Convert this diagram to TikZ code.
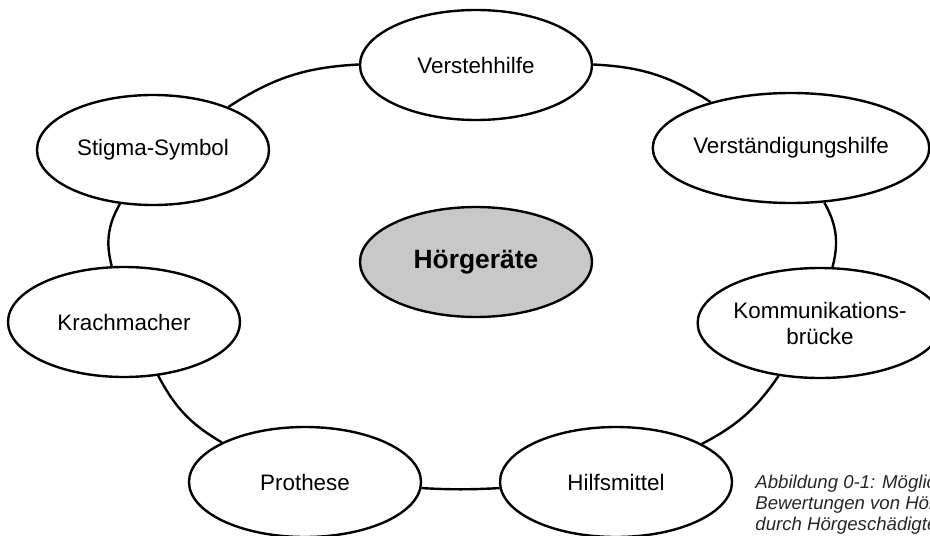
\documentclass[tikz,border=0pt]{standalone}
\usepackage{fontspec}
\setmainfont{Liberation Sans}
\usetikzlibrary{shapes.geometric}
\tikzset{>=stealth}
\definecolor{kerngrau}{RGB}{200,200,200}

\begin{document}
\begin{tikzpicture}[x=0.5pt,y=-0.5pt,
        wert/.style={ellipse,draw,line width=1.2pt,fill=white,minimum width=116pt,minimum height=55pt,inner sep=0pt,font=\fontsize{11.2}{13}\selectfont,align=center},
        kern/.style={wert,fill=kerngrau,font=\fontsize{13.2}{15}\selectfont\bfseries},
        ring/.style={line width=1.2pt}]
        \useasboundingbox (0,0) rectangle (930,535);
        \clip (0,0) rectangle (930,535);

          % Bewertungen im Kreis
          \node[wert] (verstehen) at (476,65) {Verstehhilfe};
          \node[wert] (verstaendigung) at (791,148) {Verständigungshilfe};
          \node[wert] (bruecke) at (820,323) {Kommunikations-\\brücke};
          \node[wert] (hilfsmittel) at (616,482) {Hilfsmittel};
          \node[wert] (prothese) at (305,482) {Prothese};
          \node[wert] (krach) at (124,322) {Krachmacher};
          \node[wert] (stigma) at (153,150) {Stigma-Symbol};

          \node[kern] (geraet) at (476,262) {Hörgeräte};

             % Ring zwischen den Ellipsen
          \draw[ring] (verstehen) to[bend left=15] (verstaendigung);
          \draw[ring] (verstaendigung) to[bend left=22] (bruecke);
          \draw[ring] (bruecke) to[bend left=14] (hilfsmittel);
          \draw[ring] (hilfsmittel) to[bend left=3] (prothese);
          \draw[ring] (prothese) to[bend left=16] (krach);
          \draw[ring] (krach) to[bend left=22] (stigma);
          \draw[ring] (stigma) to[bend left=15] (verstehen);

        % Bildunterschrift
        \node[anchor=north west,inner sep=0pt,align=left,font=\fontsize{9.3}{10.5}\selectfont\itshape,text=black!85] (caption) at (755,475) {Abbildung 0-1: Mögliche\\Bewertungen von Hörgeräten\\durch Hörgeschädigte};

        \end{tikzpicture}
\end{document}
